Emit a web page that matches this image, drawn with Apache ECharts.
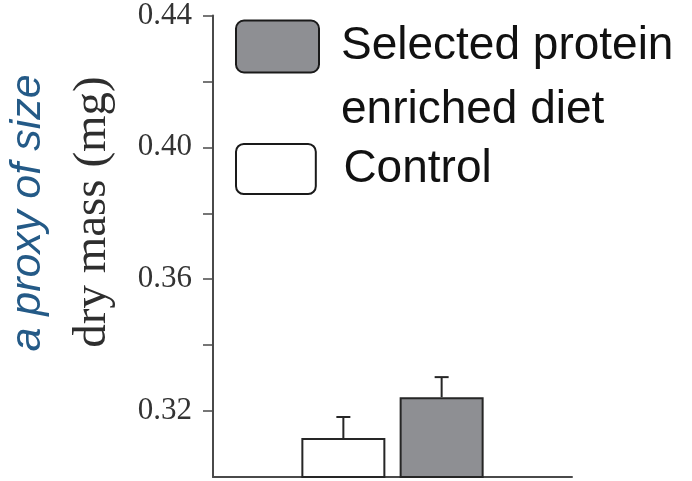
<!DOCTYPE html>
<html>
<head>
<meta charset="utf-8">
<script src="https://cdn.jsdelivr.net/npm/echarts@6/dist/echarts.min.js"></script>
<style>html,body{margin:0;padding:0;background:#fff;}#c{width:692px;height:481px;}</style>
</head>
<body>
<div id="c"></div>
<script>
// ---- data ----
const seriesNames = ['Control', 'Selected protein enriched diet'];
const means = [0.3118, 0.3242];
const upperErr = [0.3182, 0.3303];
const yTickValues = [0.32, 0.34, 0.36, 0.38, 0.40, 0.42, 0.44];
const yLabelValues = [0.32, 0.36, 0.40, 0.44];
const yTitle = 'dry mass (mg)';
const yNote = 'a proxy of size';

// ---- style ----
const BAR_W = 84;
const GAP = 0.17;
const fills = ['#ffffff', '#8e8f93'];
const offsets = [-(BAR_W + BAR_W * GAP) / 2, (BAR_W + BAR_W * GAP) / 2];
const legendIcon = 'path://M8,0 H75 A8,8 0 0 1 83,8 V44 A8,8 0 0 1 75,52 H8 A8,8 0 0 1 0,44 V8 A8,8 0 0 1 8,0 Z';

const chart = echarts.init(document.getElementById('c'));
const barSeries = seriesNames.map((n, i) => ({
  name: n,
  type: 'bar',
  data: [means[i]],
  barWidth: BAR_W,
  barGap: (GAP * 100) + '%',
  itemStyle: { color: fills[i], borderColor: '#262626', borderWidth: 2 },
  emphasis: { disabled: true },
  z: 2
}));

const errData = means.map((m, i) => [0, m, upperErr[i], i]);

chart.setOption({
  animation: false,
  grid: { left: 213, right: 120, top: 15, bottom: 4 },
  legend: [
    {
      data: [seriesNames[1]],
      left: 230, top: -78.5,
      icon: legendIcon,
      itemWidth: 83, itemHeight: 52,
      itemStyle: { borderColor: '#1a1a1a', borderWidth: 2 },
      formatter: () => '\nSelected protein\nenriched diet',
      textStyle: { fontFamily: '"Liberation Sans", Arial', fontSize: 46, color: '#111', lineHeight: 64, padding: [0, 0, 48, 17] },
      selectedMode: false
    },
    {
      data: [seriesNames[0]],
      left: 230, top: 138,
      icon: legendIcon,
      itemWidth: 83, itemHeight: 50,
      itemStyle: { borderColor: '#1a1a1a', borderWidth: 2 },
      textStyle: { fontFamily: '"Liberation Sans", Arial', fontSize: 46, color: '#111', padding: [39, 0, 0, 21] },
      selectedMode: false
    }
  ],
  xAxis: {
    type: 'category',
    data: [''],
    axisLine: { lineStyle: { color: '#4a4a4a', width: 2 } },
    axisTick: { show: false },
    axisLabel: { show: false }
  },
  yAxis: {
    type: 'value',
    min: 0.30, max: 0.44, interval: 0.02,
    splitLine: { show: false },
    axisLine: { show: true, lineStyle: { color: '#4a4a4a', width: 2 } },
    axisTick: { show: true, length: 10, lineStyle: { color: '#4a4a4a', width: 1.5 }, customValues: yTickValues },
    axisLabel: {
      customValues: yLabelValues,
      margin: 21,
      fontFamily: '"Liberation Serif", "Times New Roman", serif',
      fontSize: 31,
      color: '#333',
      formatter: v => v.toFixed(2)
    }
  },
  graphic: [
    { type: 'text', x: 93, y: 212, rotation: Math.PI / 2,
      style: { text: yTitle, font: '47px "Liberation Serif"', fill: '#2e2e2e', align: 'center', verticalAlign: 'middle' } },
    { type: 'text', x: 28, y: 213, rotation: Math.PI / 2,
      style: { text: yNote, font: 'italic 43px "Liberation Sans"', fill: '#245a87', align: 'center', verticalAlign: 'middle' } }
  ],
  series: barSeries.concat([{
    type: 'custom',
    data: errData,
    z: 3,
    renderItem: (params, api) => {
      const idx = api.value(3);
      const base = api.coord([0, api.value(1)]);
      const top = api.coord([0, api.value(2)]);
      const x = base[0] + offsets[idx];
      return {
        type: 'group',
        children: [
          { type: 'line', shape: { x1: x, y1: base[1], x2: x, y2: top[1] }, style: { stroke: '#262626', lineWidth: 2 } },
          { type: 'line', shape: { x1: x - 7, y1: top[1], x2: x + 7, y2: top[1] }, style: { stroke: '#262626', lineWidth: 2 } }
        ]
      };
    }
  }])
});
</script>
</body>
</html>
